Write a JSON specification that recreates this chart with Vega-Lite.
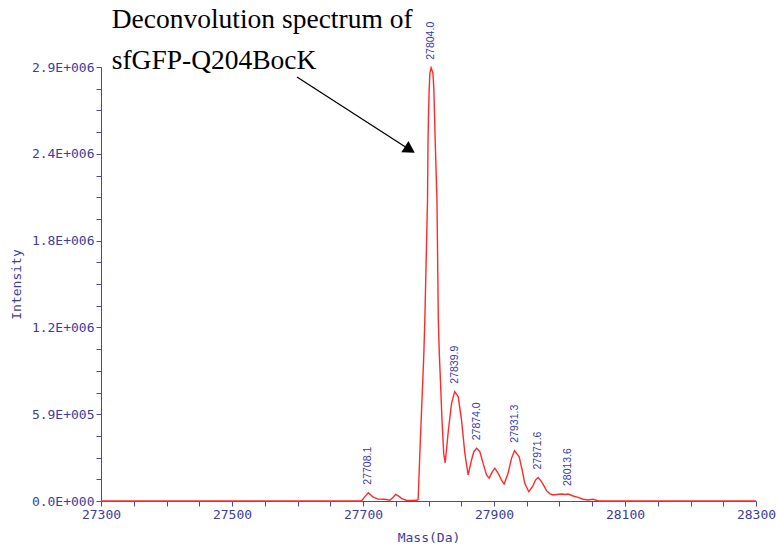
{
  "$schema": "https://vega.github.io/schema/vega-lite/v6.json",
  "width": 655,
  "height": 434,
  "autosize": {"type": "none"},
  "padding": {"left": 101, "top": 67, "right": 21, "bottom": 51},
  "background": "white",
  "config": {"view": {"stroke": null}},
  "datasets": {
    "spectrum": [
      {"mass": 27300, "intensity": 0},
      {"mass": 27500, "intensity": 0},
      {"mass": 27690, "intensity": 0},
      {"mass": 27698, "intensity": 2000},
      {"mass": 27703, "intensity": 30000},
      {"mass": 27708, "intensity": 56000},
      {"mass": 27715, "intensity": 28000},
      {"mass": 27723, "intensity": 13000},
      {"mass": 27733, "intensity": 12000},
      {"mass": 27741, "intensity": 5000},
      {"mass": 27746, "intensity": 25000},
      {"mass": 27750, "intensity": 45000},
      {"mass": 27755, "intensity": 32000},
      {"mass": 27759, "intensity": 16000},
      {"mass": 27766, "intensity": 5000},
      {"mass": 27775, "intensity": 4000},
      {"mass": 27782, "intensity": 5000},
      {"mass": 27784.2, "intensity": 10000},
      {"mass": 27785.3, "intensity": 142000},
      {"mass": 27786.8, "intensity": 323000},
      {"mass": 27788.8, "intensity": 549000},
      {"mass": 27790.9, "intensity": 774000},
      {"mass": 27792.9, "intensity": 1000000},
      {"mass": 27794.4, "intensity": 1226000},
      {"mass": 27798.5, "intensity": 2040000},
      {"mass": 27799.3, "intensity": 2450000},
      {"mass": 27800.2, "intensity": 2650000},
      {"mass": 27801.0, "intensity": 2785000},
      {"mass": 27802.1, "intensity": 2898000},
      {"mass": 27804.0, "intensity": 2935000},
      {"mass": 27806.8, "intensity": 2898000},
      {"mass": 27808.2, "intensity": 2785000},
      {"mass": 27809.3, "intensity": 2600000},
      {"mass": 27810.2, "intensity": 2446000},
      {"mass": 27812.9, "intensity": 2040000},
      {"mass": 27815.0, "intensity": 1226000},
      {"mass": 27816.5, "intensity": 1000000},
      {"mass": 27818.6, "intensity": 774000},
      {"mass": 27820.6, "intensity": 549000},
      {"mass": 27823.2, "intensity": 323000},
      {"mass": 27825.5, "intensity": 259000},
      {"mass": 27830.4, "intensity": 481000},
      {"mass": 27835.2, "intensity": 662000},
      {"mass": 27840.0, "intensity": 741000},
      {"mass": 27845.3, "intensity": 707000},
      {"mass": 27850.4, "intensity": 549000},
      {"mass": 27855.5, "intensity": 323000},
      {"mass": 27860.5, "intensity": 176000},
      {"mass": 27865.7, "intensity": 278000},
      {"mass": 27869.2, "intensity": 334000},
      {"mass": 27873.5, "intensity": 357000},
      {"mass": 27878.4, "intensity": 334000},
      {"mass": 27883.4, "intensity": 255000},
      {"mass": 27888.6, "intensity": 176000},
      {"mass": 27892.6, "intensity": 154000},
      {"mass": 27896.7, "intensity": 192000},
      {"mass": 27901.3, "intensity": 222000},
      {"mass": 27906.3, "intensity": 188000},
      {"mass": 27911.5, "intensity": 142000},
      {"mass": 27915.5, "intensity": 115000},
      {"mass": 27921.5, "intensity": 188000},
      {"mass": 27926.7, "intensity": 289000},
      {"mass": 27931.3, "intensity": 341000},
      {"mass": 27938.4, "intensity": 300000},
      {"mass": 27943.0, "intensity": 210000},
      {"mass": 27947.0, "intensity": 120000},
      {"mass": 27953.1, "intensity": 63000},
      {"mass": 27958.8, "intensity": 97000},
      {"mass": 27963.4, "intensity": 142000},
      {"mass": 27967.3, "intensity": 159000},
      {"mass": 27972.0, "intensity": 135000},
      {"mass": 27976.3, "intensity": 102000},
      {"mass": 27980.2, "intensity": 70000},
      {"mass": 27985.0, "intensity": 50000},
      {"mass": 27990.2, "intensity": 41000},
      {"mass": 27996.0, "intensity": 44000},
      {"mass": 28003.0, "intensity": 47000},
      {"mass": 28009.0, "intensity": 44000},
      {"mass": 28013.1, "intensity": 47000},
      {"mass": 28020.8, "intensity": 34000},
      {"mass": 28028.4, "intensity": 25000},
      {"mass": 28036.0, "intensity": 12000},
      {"mass": 28043.7, "intensity": 7000},
      {"mass": 28051.3, "intensity": 12000},
      {"mass": 28058.9, "intensity": 2000},
      {"mass": 28065.0, "intensity": 0},
      {"mass": 28300, "intensity": 0}
    ],
    "peaks": [
      {"mass": 27708.1, "intensity": 56200, "label": "27708.1"},
      {"mass": 27804.0, "intensity": 2935000, "label": "27804.0"},
      {"mass": 27839.9, "intensity": 740400, "label": "27839.9"},
      {"mass": 27874.0, "intensity": 357000, "label": "27874.0"},
      {"mass": 27931.3, "intensity": 340700, "label": "27931.3"},
      {"mass": 27967.5, "intensity": 159200, "label": "27971.6"},
      {"mass": 28013.6, "intensity": 47400, "label": "28013.6"}
    ],
    "annotation": [
      {"mass": 27316.3, "intensity": 3202200, "label": "Deconvolution spectrum of"},
      {"mass": 27316.3, "intensity": 2926500, "label": "sfGFP-Q204BocK"}
    ],
    "arrow": [
      {"mass": 27599.2, "intensity": 2872000, "mass2": 27769.0, "intensity2": 2386500}
    ]
  },
  "encoding": {
    "x": {
      "field": "mass",
      "type": "quantitative",
      "scale": {"domain": [27300, 28300], "nice": false, "zero": false},
      "axis": {
        "title": "Mass(Da)",
        "values": [27300, 27350, 27400, 27450, 27500, 27550, 27600, 27650, 27700, 27750, 27800, 27850, 27900, 27950, 28000, 28050, 28100, 28150, 28200, 28250, 28300],
        "labelExpr": "datum.value % 200 == 100 ? format(datum.value, 'd') : ''",
        "labelOverlap": false,
        "labelFlush": false,
        "grid": false,
        "tickSize": 5,
        "domainColor": "#4848a8",
        "tickColor": "#4848a8",
        "labelColor": "#3c3ca0",
        "labelFont": "DejaVu Sans Mono",
        "labelFontSize": 13,
        "labelPadding": 2,
        "titleFont": "DejaVu Sans Mono",
        "titleFontSize": 13,
        "titleFontWeight": "normal",
        "titleColor": "#3c3ca0",
        "titlePadding": 10
      }
    },
    "y": {
      "field": "intensity",
      "type": "quantitative",
      "scale": {"domain": [0, 2940000], "nice": false},
      "axis": {
        "title": "Intensity",
        "values": [0, 147000, 294000, 441000, 588000, 735000, 882000, 1029000, 1176000, 1323000, 1470000, 1617000, 1764000, 1911000, 2058000, 2205000, 2352000, 2499000, 2646000, 2793000, 2940000],
        "labelExpr": "datum.value % 588000 == 0 ? ['0.0E+000','5.9E+005','1.2E+006','1.8E+006','2.4E+006','2.9E+006'][round(datum.value / 588000)] : ''",
        "labelOverlap": false,
        "labelFlush": false,
        "grid": false,
        "tickSize": 5,
        "domainColor": "#4848a8",
        "tickColor": "#4848a8",
        "labelColor": "#3c3ca0",
        "labelFont": "DejaVu Sans Mono",
        "labelFontSize": 13,
        "labelPadding": 2,
        "titleFont": "DejaVu Sans Mono",
        "titleFontSize": 13,
        "titleFontWeight": "normal",
        "titleColor": "#3c3ca0",
        "titlePadding": 8
      }
    }
  },
  "layer": [
    {
      "data": {"name": "spectrum"},
      "mark": {"type": "line", "color": "#ff2a2a", "strokeWidth": 1.4, "interpolate": "linear"}
    },
    {
      "data": {"name": "peaks"},
      "mark": {"type": "text", "angle": 270, "align": "left", "baseline": "middle", "dx": 8, "font": "Liberation Sans", "fontSize": 10.5, "color": "#3838a8"},
      "encoding": {"text": {"field": "label", "type": "nominal"}}
    },
    {
      "data": {"name": "annotation"},
      "mark": {"type": "text", "align": "left", "baseline": "alphabetic", "font": "Liberation Serif", "fontSize": 27.5, "color": "black"},
      "encoding": {"text": {"field": "label", "type": "nominal"}}
    },
    {
      "data": {"name": "arrow"},
      "mark": {"type": "rule", "color": "black", "strokeWidth": 1.3},
      "encoding": {
        "x2": {"field": "mass2"},
        "y2": {"field": "intensity2"}
      }
    },
    {
      "data": {"name": "arrow"},
      "mark": {"type": "point", "shape": "triangle", "filled": true, "color": "black", "opacity": 1, "size": 180, "angle": 122},
      "encoding": {
        "x": {"field": "mass2", "type": "quantitative"},
        "y": {"field": "intensity2", "type": "quantitative"}
      }
    }
  ]
}
